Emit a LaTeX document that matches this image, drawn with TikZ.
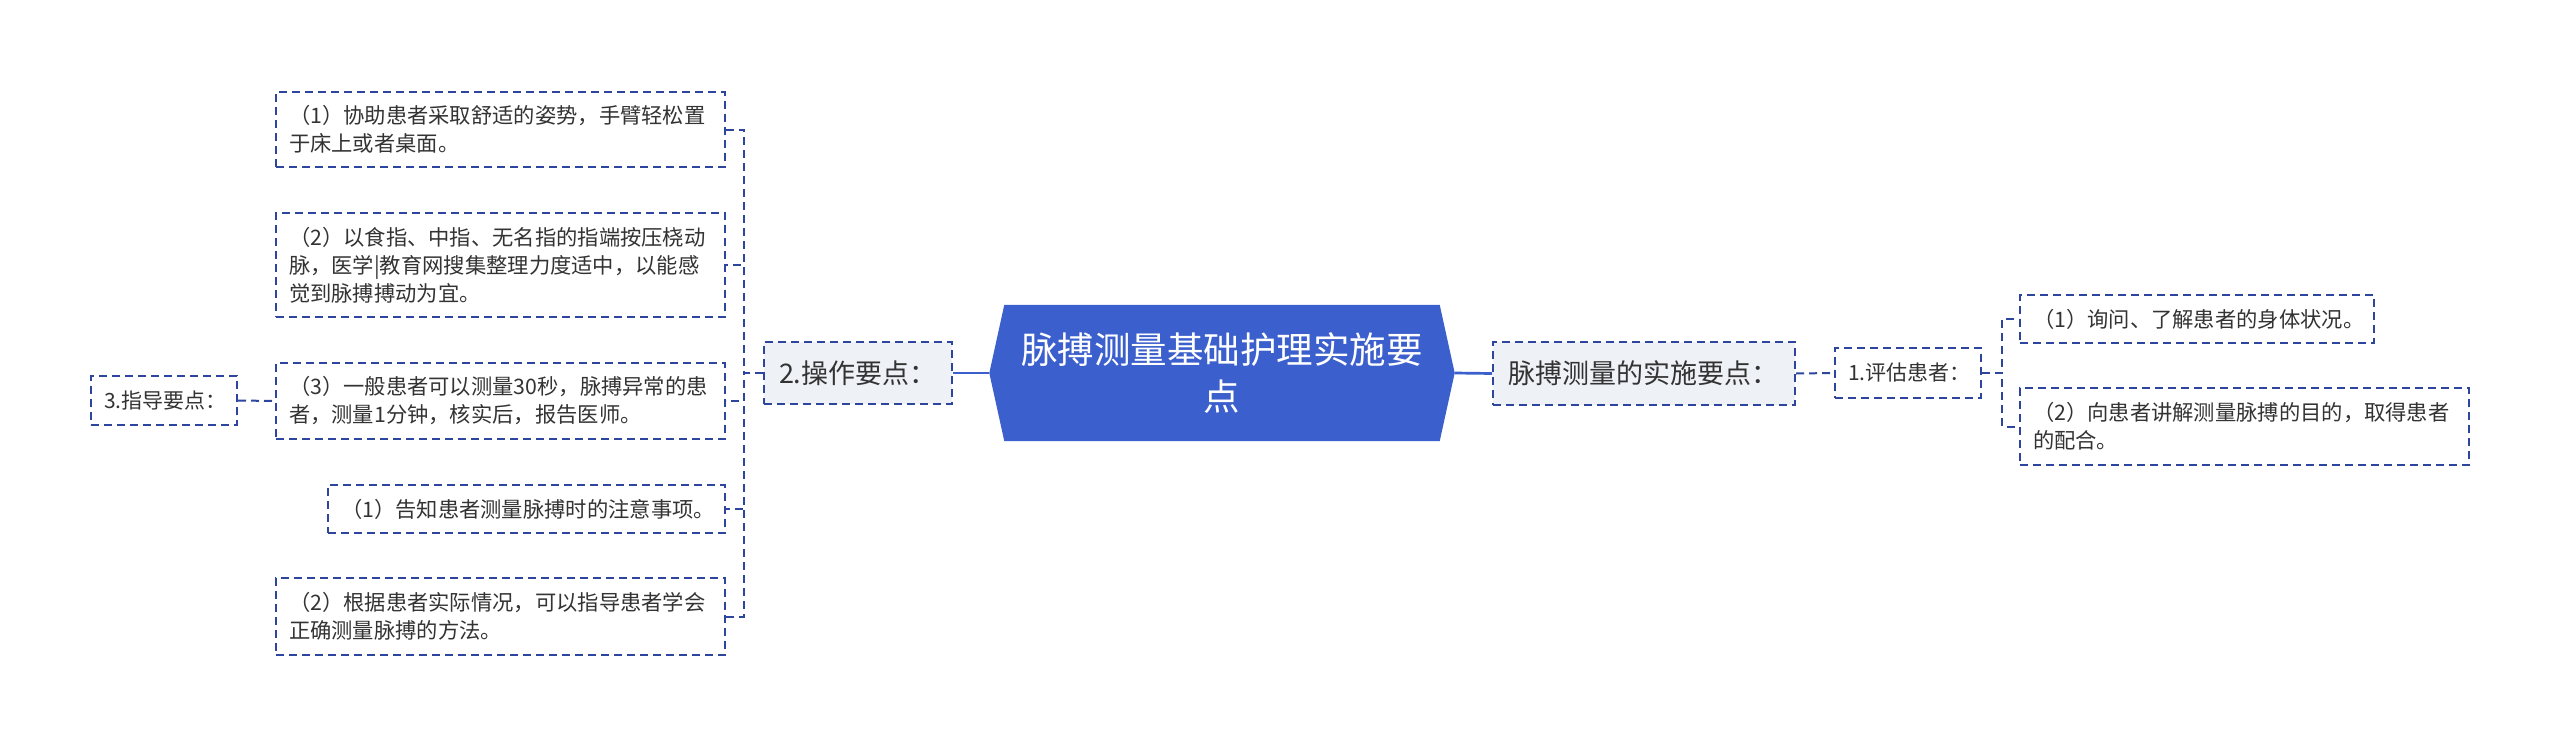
\documentclass[tikz,border=0pt]{standalone}
\usepackage{fontspec}
\setmainfont{Noto Sans CJK SC}
\usetikzlibrary{positioning, backgrounds}
\definecolor{rootblue}{HTML}{3B5FCC}
\definecolor{linkblue}{HTML}{2E459E}
\definecolor{boxgray}{HTML}{EEF1F6}
\definecolor{inktext}{HTML}{333333}

\begin{document}
\begin{tikzpicture}[x=1pt, y=-1pt,
  rootbox/.style={minimum width=465pt, minimum height=136pt, inner sep=0pt, text=white, align=center, font=\fontsize{36.5}{47}\selectfont},
  mainbox/.style={draw=linkblue, line width=2pt, dash pattern=on 8pt off 5pt, fill=boxgray, text=inktext, align=left, inner xsep=15pt, inner ysep=0pt, font=\fontsize{27}{34}\selectfont},
  subbox/.style={draw=linkblue, line width=2pt, dash pattern=on 8pt off 5pt, fill=white, text=inktext, align=left, inner xsep=13pt, inner ysep=0pt, font=\fontsize{21}{28}\selectfont},
  leafbox/.style={draw=linkblue, line width=2pt, dash pattern=on 8pt off 5pt, fill=white, text=inktext, align=left, inner xsep=13pt, inner ysep=0pt, font=\fontsize{21.3}{28}\selectfont},
  solidlink/.style={draw=rootblue, line width=2.7pt},
  dashlink/.style={draw=linkblue, line width=2pt, dash pattern=on 8pt off 5pt}]
\useasboundingbox (0,0) rectangle (2560,747);
\node[rootbox] (root) at (1222,373) {脉搏测量基础护理实施要\\点};
\begin{scope}[on background layer]
\fill[rootblue] (root.west) -- ([xshift=15pt]root.north west) -- ([xshift=-15pt]root.north east) -- (root.east) -- ([xshift=-15pt]root.south east) -- ([xshift=15pt]root.south west) -- cycle;
\end{scope}
\node[mainbox, text width=272pt, minimum height=63pt] (R1) at (1644,373.5) {脉搏测量的实施要点：};
\node[mainbox, text width=158pt, minimum height=62pt] (L1) at (858,373) {2.操作要点：};
\node[subbox, text width=120pt, minimum height=50pt] (R2) at (1908,373) {1.评估患者：};
\node[subbox, text width=120pt, minimum height=49pt] (G) at (164,400.5) {3.指导要点：};
\node[leafbox, text width=328pt, minimum height=48pt] (Ra) at (2197,319) {（1）询问、了解患者的身体状况。};
\node[leafbox, text width=423pt, minimum height=77pt] (Rb) at (2244.5,426.5) {（2）向患者讲解测量脉搏的目的，取得患者\\的配合。};
\node[leafbox, text width=423pt, minimum height=75pt] (A) at (500.5,129.5) {（1）协助患者采取舒适的姿势，手臂轻松置\\于床上或者桌面。};
\node[leafbox, text width=423pt, minimum height=104pt] (B) at (500.5,265) {（2）以食指、中指、无名指的指端按压桡动\\脉，医学|教育网搜集整理力度适中，以能感\\觉到脉搏搏动为宜。};
\node[leafbox, text width=423pt, minimum height=76pt] (C) at (500.5,401) {（3）一般患者可以测量30秒，脉搏异常的患\\者，测量1分钟，核实后，报告医师。};
\node[leafbox, text width=371pt, minimum height=48pt] (D) at (526.5,509) {（1）告知患者测量脉搏时的注意事项。};
\node[leafbox, text width=423pt, minimum height=77pt] (E) at (500.5,616.5) {（2）根据患者实际情况，可以指导患者学会\\正确测量脉搏的方法。};
\draw[solidlink] (root.west) -- (L1.east);
\draw[solidlink] (root.east) -- (R1.west);
\draw[dashlink] (R1.east) -- (R2.west);
\foreach \n in {Ra,Rb} \draw[dashlink] (R2.east) -- ++(20,0) |- (\n.west);
\foreach \n in {A,B,C,D,E} \draw[dashlink] (L1.west) -- ++(-19,0) |- (\n.east);
\draw[dashlink] (G.east) -- (C.west);
\end{tikzpicture}
\end{document}
